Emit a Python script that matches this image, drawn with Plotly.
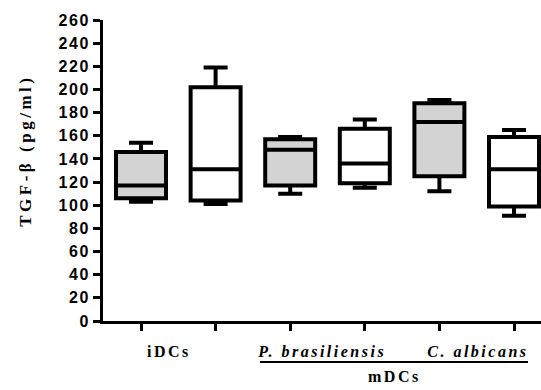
import plotly.graph_objects as go

# ---- data ----
groups = ["iDCs 1", "iDCs 2", "P. brasiliensis 1", "P. brasiliensis 2", "C. albicans 1", "C. albicans 2"]
x_pos = [0, 1, 2, 3, 4, 5]
mins = [103, 101, 110, 115, 112, 91]
q1s = [106, 104, 117, 119, 125, 99]
medians = [117, 131, 148, 136, 172, 131]
q3s = [146, 202, 157, 166, 188, 159]
maxs = [154, 219, 159, 174, 191, 165]
fills = ["#d3d3d3", "#ffffff", "#d3d3d3", "#ffffff", "#d3d3d3", "#ffffff"]
y_ticks = list(range(0, 261, 20))
y_title = "TGF-β (pg/ml)"

# ---- geometry ----
W, H = 541, 390
L, R, T, B = 103, 0, 20, 69
PH = H - T - B
PW = W - L - R
X0PIX, DX = 141, 74.6


def py(p):  # pixel y -> paper y
    return (H - B - p) / PH


def px(p):  # pixel x -> paper x
    return (p - L) / PW


def dx(p):  # pixel x -> data x
    return (p - X0PIX) / DX


fig = go.Figure()
for i in range(len(groups)):
    fig.add_trace(go.Box(
        x=[x_pos[i]], q1=[q1s[i]], median=[medians[i]], q3=[q3s[i]],
        lowerfence=[mins[i]], upperfence=[maxs[i]],
        name=groups[i], fillcolor=fills[i],
        line=dict(color="#000000", width=4),
        width=0.67, whiskerwidth=0.48, boxpoints=False,
        showlegend=False, hoverinfo="skip",
    ))

serif_b = dict(family="Liberation Serif", size=16, color="#000000", weight="bold")
serif_bi = dict(family="Liberation Serif", size=16, color="#000000", weight="bold", style="italic")

ann = [
    dict(text="iDCs", x=dx(169), y=py(351), font=serif_b, xref="x"),
    dict(text="P. brasiliensis", x=dx(321), y=py(351), font=serif_bi, xref="x"),
    dict(text="C. albicans", x=dx(478), y=py(351), font=serif_bi, xref="x"),
    dict(text="mDCs", x=dx(394), y=py(377), font=serif_b, xref="x", borderpad=0),
    dict(text=y_title, x=px(25), y=py(151), font=dict(family="Liberation Serif", size=17,
                                                     color="#000000", weight="bold"),
         xref="paper", textangle=-90),
]
for a in ann:
    a.update(yref="paper", showarrow=False, xanchor="center", yanchor="middle")

fig.update_layout(
    width=W, height=H,
    margin=dict(l=L, r=R, t=T, b=B, autoexpand=False),
    paper_bgcolor="white", plot_bgcolor="white",
    boxmode="overlay",
    annotations=ann,
    shapes=[dict(type="line", xref="x", yref="paper", x0=dx(260), x1=dx(528),
                 y0=py(362), y1=py(362), line=dict(color="#000000", width=2))],
    xaxis=dict(range=[dx(L), dx(W)], tickvals=x_pos, ticktext=[""] * 6,
               ticks="outside", ticklen=7, tickwidth=3, tickcolor="#000000",
               showline=True, linewidth=3, linecolor="#000000",
               showgrid=False, zeroline=False, fixedrange=True),
    yaxis=dict(range=[0, 260], tickvals=y_ticks,
               ticks="outside", ticklen=7, tickwidth=3, tickcolor="#000000",
               showline=True, linewidth=3, linecolor="#000000",
               showgrid=False, zeroline=False, fixedrange=True,
               tickfont=dict(family="Liberation Sans", size=16, color="#000000", weight="bold")),
)

post = """
var s=document.createElement('style');
s.textContent='.ytick text{letter-spacing:1.5px} .annotation-text{letter-spacing:2.5px} .annotation[data-index="4"] .annotation-text{letter-spacing:3.5px}';
document.head.appendChild(s);
"""
fig.write_html("out.html", post_script=post, config=dict(displayModeBar=False))
